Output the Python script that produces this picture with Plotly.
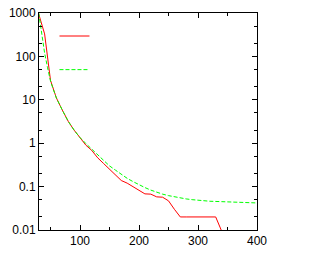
import plotly.graph_objects as go

# data
x_red = [30, 40, 50, 60, 70, 80, 90, 100, 110, 120, 130, 140, 150, 160, 170,
         180, 190, 200, 210, 220, 230, 240, 250, 260, 270, 280, 290, 300, 310,
         320, 330, 340]
y_red = [950, 330, 28, 11, 5.8, 3.2, 2.0, 1.3, 0.9, 0.68, 0.46, 0.34, 0.25,
         0.185, 0.138, 0.12, 0.1, 0.085, 0.068, 0.067, 0.058, 0.057, 0.047,
         0.03, 0.02, 0.02, 0.02, 0.02, 0.02, 0.02, 0.02, 0.0095]

x_green = [30, 35, 40, 45, 50, 55, 60, 70, 80, 90, 100, 110, 120, 130, 140,
           150, 160, 170, 180, 190, 200, 210, 220, 230, 240, 250, 260, 270,
           280, 290, 300, 320, 340, 360, 380, 400]
y_green = [1000, 300, 120, 55, 27, 17, 11, 5.8, 3.2, 2.0, 1.35, 0.98, 0.72,
           0.53, 0.40, 0.30, 0.24, 0.19, 0.155, 0.13, 0.11, 0.095, 0.083,
           0.074, 0.067, 0.062, 0.058, 0.055, 0.052, 0.050, 0.048, 0.046,
           0.045, 0.044, 0.043, 0.042]

y_ticks = [0.01, 0.1, 1, 10, 100, 1000]
y_ticktext = ["0.01", "0.1", "1", "10", "100", "1000"]
y_minor = [0.02, 0.05, 0.2, 0.5, 2, 5, 20, 50, 200, 500]

fig = go.Figure()
fig.add_trace(go.Scatter(x=x_red, y=y_red, mode="lines", name=" ",
                         line=dict(color="#ff0000", width=1), legend="legend"))
fig.add_trace(go.Scatter(x=x_green, y=y_green, mode="lines", name=" ",
                         line=dict(color="#00ff00", width=1, dash="4px,2px"),
                         legend="legend2"))

axis_common = dict(showline=True, linecolor="black", linewidth=1,
                   mirror="allticks", ticks="inside", tickcolor="black",
                   showgrid=False, zeroline=False, automargin=False,
                   tickfont=dict(family="Liberation Sans, Arial", size=12,
                                 color="black"))

fig.update_layout(
    width=313, height=254,
    margin=dict(l=39, r=56, t=13, b=24, autoexpand=False),
    paper_bgcolor="white", plot_bgcolor="white",
    xaxis=dict(range=[30.5, 400], tickmode="linear", tick0=0, dtick=100,
               ticklen=5, tickwidth=1,
               minor=dict(tickmode="linear", tick0=0, dtick=50, ticks="inside",
                          ticklen=3, tickcolor="black"),
               **axis_common),
    yaxis=dict(type="log", range=[-2, 3], tickmode="array", tickvals=y_ticks,
               ticktext=y_ticktext, ticklen=5, tickwidth=1,
               minor=dict(tickmode="array", tickvals=y_minor, ticks="inside",
                          ticklen=3, tickcolor="black"),
               **axis_common),
    legend=dict(x=0.071, y=0.894, xanchor="left", yanchor="middle",
                bgcolor="rgba(0,0,0,0)", font=dict(size=10)),
    legend2=dict(x=0.071, y=0.739, xanchor="left", yanchor="middle",
                 bgcolor="rgba(0,0,0,0)", font=dict(size=10)),
    showlegend=True,
)

fig.write_html(
    "out.html",
    config={"displayModeBar": False},
    post_script="document.body.style.margin='0';document.body.style.overflow='hidden';",
)
